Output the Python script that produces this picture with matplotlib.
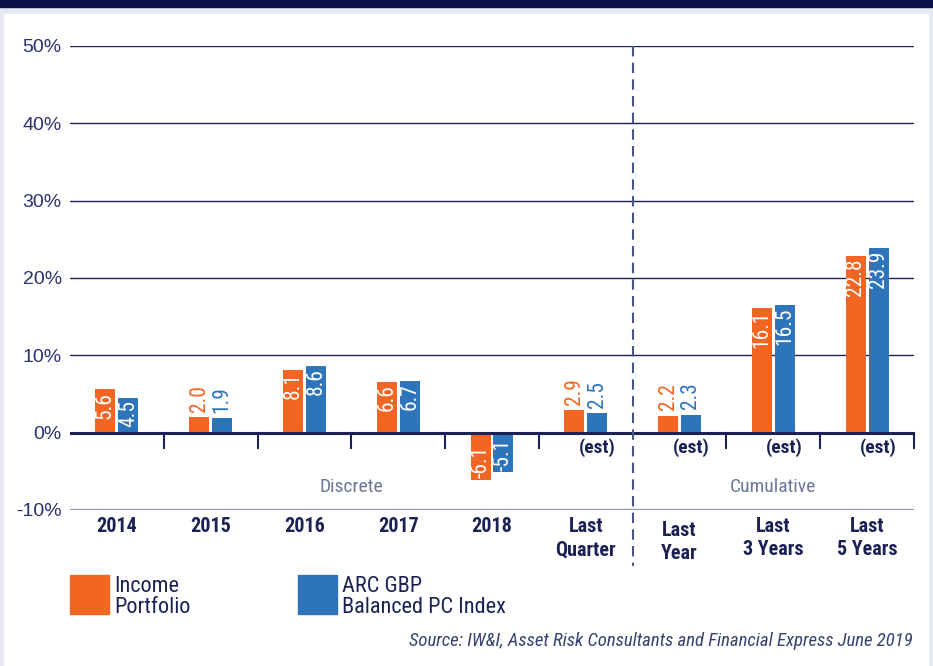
import matplotlib.pyplot as plt
from matplotlib import font_manager
from matplotlib.patches import Rectangle
import numpy as np

# data
categories = ['2014', '2015', '2016', '2017', '2018', 'Last\nQuarter',
              'Last\nYear', 'Last\n3 Years', 'Last\n5 Years']
income = [5.6, 2.0, 8.1, 6.6, -6.1, 2.9, 2.2, 16.1, 22.8]
arc = [4.5, 1.9, 8.6, 6.7, -5.1, 2.5, 2.3, 16.5, 23.9]
estimated = [False, False, False, False, False, True, True, True, True]
yticks = [-10, 0, 10, 20, 30, 40, 50]
series_names = ['Income\nPortfolio', 'ARC GBP\nBalanced PC Index']
groups = ['Discrete', 'Cumulative']
source = 'Source: IW&I, Asset Risk Consultants and Financial Express June 2019'

orange = '#F26522'
blue = '#2E74BA'
navy = '#1B2154'
grey_blue = '#6D7599'

names = {f.name for f in font_manager.fontManager.ttflist}
narrow = 'DejaVu Sans'
for cand in ['Roboto Condensed', 'IBM Plex Sans Condensed', 'Barlow Semi Condensed',
             'Liberation Sans Narrow']:
    if cand in names:
        narrow = cand
        break
regular = 'Liberation Sans'

fig = plt.figure(figsize=(9.33, 6.66), dpi=100)
fig.patch.set_facecolor('#E6E8F4')
# white panel and dark top band
fig.patches.append(Rectangle((4 / 933, 0), 924 / 933, 1 - 14 / 666,
                             transform=fig.transFigure, color='white', zorder=-5))
fig.patches.append(Rectangle((0, 1 - 7 / 666), 1, 7 / 666,
                             transform=fig.transFigure, color='#0B1247', zorder=-5))

ax = fig.add_axes([70 / 933, 1 - 510 / 666, 844 / 933, 464 / 666])
ax.set_facecolor('none')
for s in ax.spines.values():
    s.set_visible(False)

x = np.arange(len(categories))
w = 0.213
off = 0.122

# grid lines
for v in yticks:
    if v > 0:
        ax.axhline(v, color=navy, lw=1.0, zorder=1)
ax.axhline(-10, color='#8A90AE', lw=1.6, zorder=1)

ax.bar(x - off, income, w, color=orange, zorder=2)
ax.bar(x + off, arc, w, color=blue, zorder=2)

ax.axhline(0, color=navy, lw=2.2, zorder=3)

# category separators below the zero line
for b in np.arange(0.5, len(categories), 1.0):
    if b == 5.5:
        continue
    ax.plot([b, b], [0, -1.95], color=navy, lw=1.5, zorder=3, clip_on=False)

# dashed divider between discrete and cumulative
ax.plot([5.5, 5.5], [50, -17.2], color='#4A5585', lw=1.5, ls=(0, (5, 3)),
        zorder=3, clip_on=False)

# value labels
for xs, vals, col in ((x - off, income, orange), (x + off, arc, blue)):
    for xi, v in zip(xs, vals):
        txt = f'{v:.1f}'
        if v < 0:
            ax.text(xi, v + 0.2, txt, rotation=90, ha='center', va='bottom',
                    color='white', fontsize=15.5, family=narrow, zorder=4)
        elif v >= 4:
            ax.text(xi, v - 0.3, txt, rotation=90, ha='center', va='top',
                    color='white', fontsize=15.5, family=narrow, zorder=4)
        else:
            ax.text(xi, v + 0.7, txt, rotation=90, ha='center', va='bottom',
                    color=col, fontsize=15.5, family=narrow, zorder=4)

for xi, est in zip(x, estimated):
    if est:
        ax.text(xi + 0.12, -1.9, '(est)', ha='center', va='center', color=navy,
                fontsize=14, family=narrow, fontweight='bold')

ax.text(2.5, -7.0, groups[0], ha='center', va='center', color=grey_blue,
        fontsize=14, family=narrow)
ax.text(7.0, -7.0, groups[1], ha='center', va='center', color=grey_blue,
        fontsize=14, family=narrow)

for xi, lab in zip(x, categories):
    dy = -0.5 if lab == 'Last\nYear' else 0
    ax.text(xi, -10.9 + dy, lab, ha='center', va='top', color=navy,
            fontsize=14.5, family=narrow, fontweight='bold', linespacing=1.3,
            clip_on=False)

ax.set_xlim(-0.5, len(categories) - 0.5)
ax.set_ylim(-10, 50)
ax.set_xticks([])
ax.set_yticks(yticks)
ax.set_yticklabels([f'{v}%' for v in yticks], family=regular, fontsize=14,
                   color='#2B3070')
ax.tick_params(axis='y', length=0, pad=6)

# legend
for i, (name, col) in enumerate(zip(series_names, [orange, blue])):
    x0 = 70 + i * 228
    fig.patches.append(Rectangle((x0 / 933, 1 - 614 / 666), 39 / 933, 39 / 666,
                                 transform=fig.transFigure, color=col))
    fig.text((x0 + 44) / 933, 1 - 576 / 666, name, ha='left', va='top',
             color=navy, fontsize=16, family=narrow, linespacing=1.02)

fig.text(913 / 933, 1 - 641 / 666, source, ha='right', va='center',
         color='#3A4070', fontsize=13.5, family=narrow, style='italic')

fig.savefig('out.png', dpi=100)
